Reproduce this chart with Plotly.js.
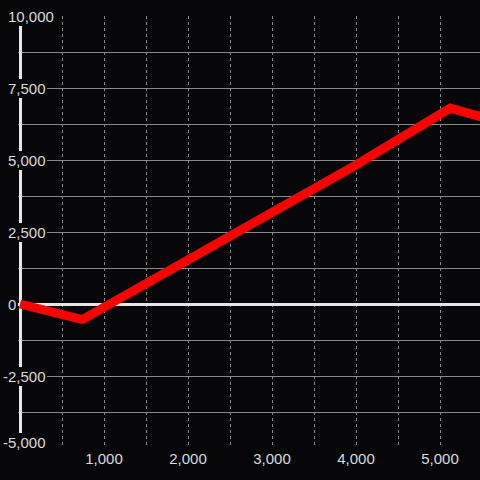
<!DOCTYPE html>
<html>
<head>
<meta charset="utf-8">
<script src="https://cdn.plot.ly/plotly-3.0.1.min.js"></script>
<style>
  html, body { margin: 0; padding: 0; background: #070709; }
  #chart { width: 480px; height: 480px; }
</style>
</head>
<body>
<div id="chart"></div>
<script>
// Data
const xValues = [0, 740, 4000, 5120, 5600];
const yValues = [0, -540, 4830, 6800, 6410];

const xTickVals = [1000, 2000, 3000, 4000, 5000];
const xTickText = ['1,000', '2,000', '3,000', '4,000', '5,000'];

const yTickVals = [10000, 7500, 5000, 2500, 0, -2500, -5000];
const yTickText = ['10,000', '7,500', '5,000', '2,500', '0', '-2,500', '-5,000'];

const BG = '#070709';
const LABEL = '#dadada';
const GRID = '#8a8a8a';
const ZERO = '#e6e6e6';
const FONT = 'Liberation Sans, Arial, sans-serif';

const yMin = Math.min.apply(null, yTickVals);
const yMax = Math.max.apply(null, yTickVals);

const annotations = yTickVals.map(function (v, i) {
  return {
    xref: 'paper', yref: 'y',
    x: 0, y: v,
    xanchor: 'left',
    yanchor: 'middle',
    yshift: v === yMin ? 6 : 0,
    xshift: v < 0 ? -16 : -11,
    text: yTickText[i],
    showarrow: false,
    bgcolor: BG,
    borderpad: 1,
    borderwidth: 0,
    font: { family: FONT, size: 15, color: LABEL }
  };
});

const trace = {
  type: 'scatter',
  mode: 'lines',
  x: xValues,
  y: yValues,
  line: { color: '#ff0000', width: 9 },
  hoverinfo: 'skip'
};

const layout = {
  width: 480,
  height: 480,
  paper_bgcolor: BG,
  plot_bgcolor: BG,
  showlegend: false,
  margin: { l: 18, r: 0, t: 16, b: 32, pad: 0 },
  font: { family: FONT, size: 15, color: LABEL },
  xaxis: {
    range: [-24, 5476],
    tickmode: 'array',
    tickvals: xTickVals,
    ticktext: xTickText,
    ticks: '',
    showline: false,
    showgrid: true,
    gridcolor: GRID,
    gridwidth: 1,
    griddash: 'dot',
    zeroline: true,
    zerolinecolor: ZERO,
    zerolinewidth: 3,
    tickfont: { family: FONT, size: 15, color: LABEL },
    minor: { dtick: 500, tick0: 0, showgrid: true, gridcolor: GRID, gridwidth: 1, griddash: 'dot', ticks: '' },
    fixedrange: true
  },
  yaxis: {
    range: [yMin, yMax],
    dtick: 1250,
    tick0: 0,
    showticklabels: false,
    ticks: '',
    showline: false,
    showgrid: true,
    gridcolor: GRID,
    gridwidth: 1,
    zeroline: true,
    zerolinecolor: ZERO,
    zerolinewidth: 3,
    fixedrange: true
  },
  annotations: annotations
};

Plotly.newPlot('chart', [trace], layout, { displayModeBar: false, staticPlot: true });
</script>
</body>
</html>
